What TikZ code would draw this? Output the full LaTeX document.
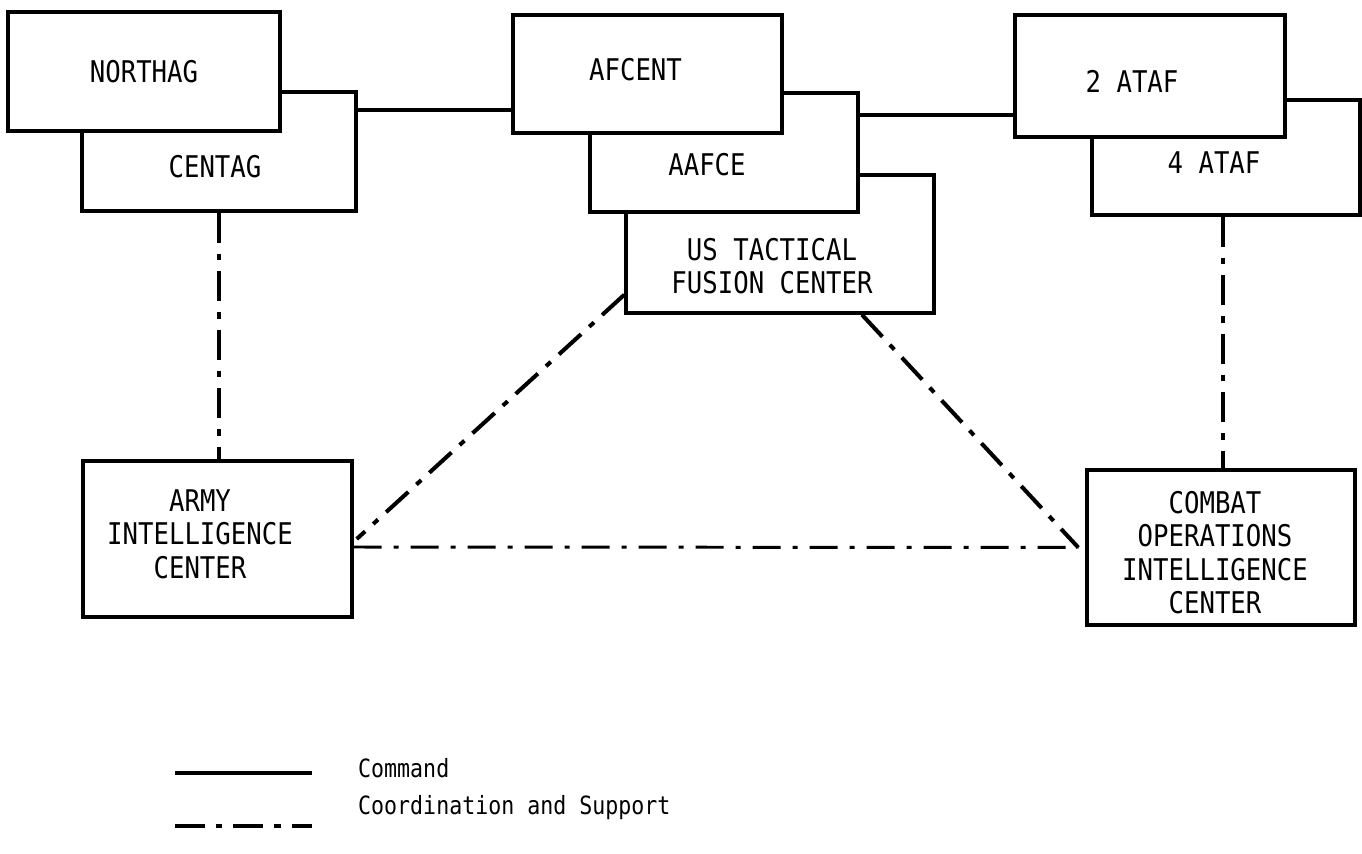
\documentclass[tikz,border=0pt]{standalone}
\usepackage{fontspec}
\newfontfamily\typefont[FakeStretch=0.86]{DejaVu Sans Mono}
\usetikzlibrary{positioning, calc}

\begin{document}
\begin{tikzpicture}[
    x=0.02cm, y=-0.02cm,
    every node/.style={
        font=\typefont\fontsize{17}{19}\selectfont,
        align=center
    },
    box/.style={draw, fill=white, line width=2pt, inner sep=0pt},
    tag/.style={draw=none, fill=none},
    legend/.style={anchor=west, font=\typefont\fontsize{14.3}{16}\selectfont},
    command/.style={line width=2pt},
    coord/.style={line width=2.3pt, dash pattern=on 0.6cm off 0.22cm on 0.13cm off 0.22cm},
    coordthin/.style={line width=1.7pt, dash pattern=on 0.56cm off 0.24cm on 0.1cm off 0.24cm}
]

    \useasboundingbox[fill=white] (0,0) rectangle (1362,854);

    % army group headquarters
    \node[box, minimum width=5.48cm, minimum height=2.38cm,
          label={[tag, xshift=-0.08cm, yshift=-0.31cm]center:CENTAG}] (centag) at (219,151.5) {};
    \node[box, minimum width=5.44cm, minimum height=2.38cm,
          label={[tag]center:NORTHAG}] (northag) at (144,71.5) {};

    % central region
    \node[box, minimum width=6.16cm, minimum height=2.76cm,
          label={[tag, xshift=-0.16cm, yshift=-0.44cm]center:US TACTICAL\\FUSION CENTER}] (tfc) at (780,244) {};
    \node[box, minimum width=5.36cm, minimum height=2.38cm,
          label={[tag, xshift=-0.34cm, yshift=-0.25cm]center:AAFCE}] (aafce) at (724,152.5) {};
    \node[box, minimum width=5.38cm, minimum height=2.36cm,
          label={[tag, xshift=-0.24cm, yshift=0.08cm]center:AFCENT}] (afcent) at (647.5,74) {};

    % tactical air forces
    \node[box, minimum width=5.36cm, minimum height=2.30cm,
          label={[tag, xshift=-0.24cm, yshift=-0.1cm]center:4 ATAF}] (ataf4) at (1226,157.5) {};
    \node[box, minimum width=5.40cm, minimum height=2.44cm,
          label={[tag, xshift=-0.36cm, yshift=-0.1cm]center:2 ATAF}] (ataf2) at (1150,76) {};

    % intelligence centers
    \node[box, minimum width=5.38cm, minimum height=3.12cm,
          label={[tag, xshift=-0.35cm, yshift=0.1cm]center:ARMY\\INTELLIGENCE\\CENTER}] (army) at (217.5,539) {};
    \node[box, minimum width=5.36cm, minimum height=3.10cm,
          label={[tag, xshift=-0.12cm, yshift=-0.1cm]center:COMBAT\\OPERATIONS\\INTELLIGENCE\\CENTER}] (coic) at (1221,547.5) {};

    % command links
    \draw[command] ([yshift=0.83cm]centag.east) -- ([yshift=0.83cm]centag.east -| afcent.west);
    \draw[command] ([yshift=0.75cm]aafce.east) -- ([yshift=0.75cm]aafce.east -| ataf2.west);

    % coordination and support
    \coordinate (meet) at ([xshift=-0.14cm]coic.west);
    \draw[coord] (centag.south) -- (centag.south |- army.north);
    \draw[coord] ([xshift=-0.06cm]ataf4.south) -- ([xshift=-0.06cm]ataf4.south |- coic.north);
    \draw[coord] ([yshift=0.4cm]tfc.south west) -- ([xshift=0.06cm]army.east);
    \draw[coord] ([xshift=1.64cm]tfc.south) -- (meet);
    \draw[coordthin] ([yshift=-0.16cm]army.east) -- (meet);

    % legend
    \coordinate (cmdA) at (175,773);
    \coordinate (cmdB) at (312,773);
    \coordinate (supA) at (175,826);
    \coordinate (supB) at (312,826);
    \draw[command] (cmdA) -- (cmdB);
    \draw[coord] (supA) -- (supB);
    \node[legend] (cmdtext) at (352,768) {Command};
    \node[legend] (suptext) at (352,808) {Coordination and Support};

\end{tikzpicture}
\end{document}
